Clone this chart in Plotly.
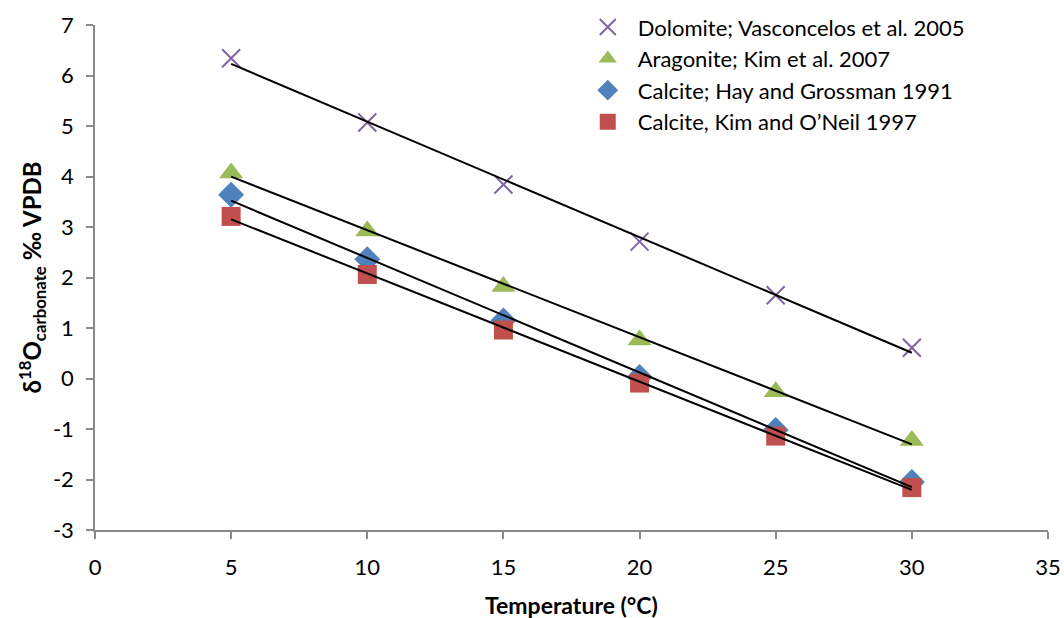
import numpy as np
import plotly.graph_objects as go

temps = [5, 10, 15, 20, 25, 30]
dolomite = [6.34, 5.07, 3.84, 2.71, 1.65, 0.61]
aragonite = [4.07, 2.92, 1.82, 0.76, -0.26, -1.23]
calcite_hg = [3.64, 2.36, 1.15, 0.03, -1.02, -2.05]
calcite_ko = [3.21, 2.06, 0.96, -0.09, -1.14, -2.16]

x_ticks = [0, 5, 10, 15, 20, 25, 30, 35]
y_ticks = [-3, -2, -1, 0, 1, 2, 3, 4, 5, 6, 7]
y_ticktext = [str(v) for v in y_ticks]

series = [
    ("Dolomite; Vasconcelos et al. 2005", dolomite, "x-thin-open", "#8064A2", 18),
    ("Aragonite; Kim et al. 2007", aragonite, "triangle-up", "#9BBB59", 21),
    ("Calcite; Hay and Grossman 1991", calcite_hg, "diamond", "#4F81BD", 20),
    ("Calcite, Kim and O’Neil 1997", calcite_ko, "square", "#C0504D", 19),
]

fig = go.Figure()
x = np.array(temps, dtype=float)
for name, ys, sym, col, sz in series:
    mk = dict(symbol=sym, size=sz, color=col)
    if sym.startswith("x"):
        mk["line"] = dict(color=col, width=2)
    fig.add_trace(go.Scatter(x=temps, y=ys, mode="markers", name=name, marker=mk))
for name, ys, sym, col, sz in series:
    m, b = np.polyfit(x, np.array(ys), 1)
    fig.add_trace(go.Scatter(x=temps, y=list(m * x + b), mode="lines",
                             line=dict(color="black", width=2),
                             showlegend=False, hoverinfo="skip"))

font = "Lato, 'Noto Sans', sans-serif"
axis_common = dict(showgrid=False, zeroline=False, showline=True,
                   linecolor="#898989", linewidth=1.5, ticks="outside",
                   ticklen=7, tickwidth=1.5, tickcolor="#898989",
                   automargin=False, tickfont=dict(size=22))
fig.update_layout(
    width=1064, height=618,
    margin=dict(l=95, r=16, t=25, b=88, autoexpand=False),
    plot_bgcolor="white", paper_bgcolor="white",
    font=dict(family=font, size=22, color="black"),
    showlegend=True,
    legend=dict(xref="container", yref="container", x=0.543, y=0.99,
                xanchor="left", yanchor="top",
                font=dict(size=22), bgcolor="rgba(0,0,0,0)",
                itemsizing="trace", itemwidth=50, tracegroupgap=0),
    xaxis=dict(range=[0, 35], tickvals=x_ticks, ticklabelstandoff=10, **axis_common),
    yaxis=dict(range=[-3, 7], tickvals=y_ticks, ticktext=y_ticktext,
               ticklabelstandoff=8, **axis_common),
    annotations=[
        dict(text="<b>Temperature (°C)</b>", xref="paper", yref="paper",
             x=0.5, y=0, yshift=-75, xanchor="center", yanchor="middle",
             showarrow=False, font=dict(size=23)),
        dict(text="<b>δ<sup>18</sup>O<sub>carbonate</sub> ‰ VPDB</b>", xref="paper", yref="paper",
             x=0, y=0.5, xshift=-64, xanchor="center", yanchor="middle",
             textangle=-90, showarrow=False, font=dict(size=24)),
    ],
)
fig.write_html("out.html", config={"displayModeBar": False},
               post_script="document.body.style.margin='0';")
